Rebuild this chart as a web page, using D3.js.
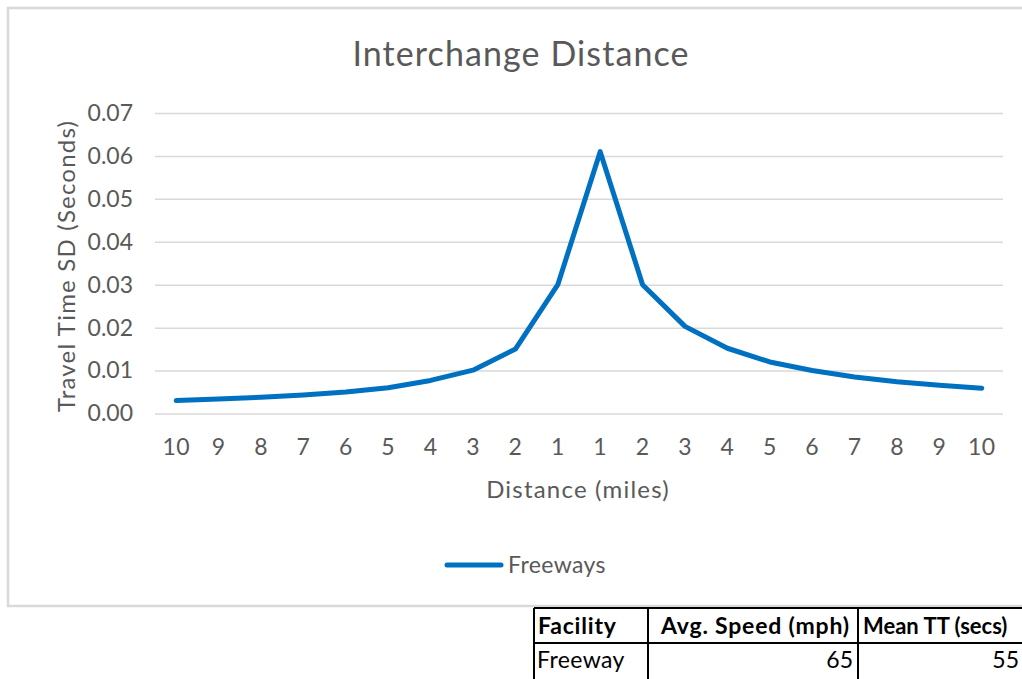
<!DOCTYPE html>
<html>
<head>
<meta charset="utf-8">
<script src="https://cdn.jsdelivr.net/npm/d3@7"></script>
<style>
  body { margin: 0; background: #fff; }
  svg { display: block; }
  text { font-family: Lato, "Open Sans", sans-serif; }
</style>
</head>
<body>
<svg id="chart" width="1022" height="679"></svg>
<script>
// Distance from the interchange (miles), upstream then downstream
const distanceLabels = ["10","9","8","7","6","5","4","3","2","1","1","2","3","4","5","6","7","8","9","10"];
// Travel time standard deviation (seconds) for freeways
const freewaySD = [0.0030, 0.0034, 0.0038, 0.0043, 0.0050, 0.0060, 0.0077, 0.0101, 0.0150, 0.0300,
                   0.0610, 0.0300, 0.0203, 0.0152, 0.0120, 0.0100, 0.0085, 0.0074, 0.0066, 0.0059];
const yTicks = [0, 0.01, 0.02, 0.03, 0.04, 0.05, 0.06, 0.07];
const seriesName = "Freeways";

// Summary table below the chart
const tableHeader = ["Facility", "Avg. Speed (mph)", "Mean TT (secs)"];
const tableRow = ["Freeway", "65", "55"];

const svg = d3.select("#chart");
const textGray = "#595959";
const lineBlue = "#0070C0";
const gridGray = "#d9d9d9";

// Chart frame
svg.append("rect")
  .attr("x", 8).attr("y", 8)
  .attr("width", 1040).attr("height", 598)
  .attr("fill", "#fff")
  .attr("stroke", gridGray)
  .attr("stroke-width", 2.5);

const plot = { left: 155, right: 1003, top: 113, bottom: 413.5 };

const x = d3.scaleBand()
  .domain(d3.range(distanceLabels.length))
  .range([plot.left, plot.right]);

const y = d3.scaleLinear()
  .domain([0, 0.07])
  .range([plot.bottom, plot.top]);

// Title
svg.append("text")
  .attr("x", 521).attr("y", 66)
  .attr("text-anchor", "middle")
  .attr("fill", textGray)
  .attr("font-size", 34)
  .attr("letter-spacing", 1.1)
  .text("Interchange Distance");

// Horizontal gridlines + y tick labels
const yAxis = d3.axisLeft(y)
  .tickValues(yTicks)
  .tickFormat(d3.format(".2f"))
  .tickSize(-(plot.right - plot.left))
  .tickPadding(22);

const gy = svg.append("g")
  .attr("transform", `translate(${plot.left},0)`)
  .call(yAxis);
gy.select(".domain").remove();
gy.selectAll(".tick line").attr("stroke", gridGray).attr("stroke-width", 1.5);
gy.selectAll(".tick text")
  .attr("fill", textGray)
  .attr("font-size", 23)
  .attr("font-family", "Lato, sans-serif");

// X axis labels
const xAxis = d3.axisBottom(x)
  .tickFormat(i => distanceLabels[i])
  .tickSize(0)
  .tickPadding(25);

const gx = svg.append("g")
  .attr("transform", `translate(0,${plot.bottom})`)
  .call(xAxis);
gx.select(".domain").remove();
gx.selectAll(".tick text")
  .attr("fill", textGray)
  .attr("font-size", 23)
  .attr("letter-spacing", 0.4)
  .attr("font-family", "Lato, sans-serif");

// Axis titles
svg.append("text")
  .attr("transform", "translate(75,266) rotate(-90)")
  .attr("text-anchor", "middle")
  .attr("fill", textGray)
  .attr("font-size", 24)
  .attr("letter-spacing", 1.2)
  .text("Travel Time SD (Seconds)");

svg.append("text")
  .attr("x", 578).attr("y", 498)
  .attr("text-anchor", "middle")
  .attr("fill", textGray)
  .attr("font-size", 24)
  .attr("letter-spacing", 1.2)
  .text("Distance (miles)");

// Series line
const line = d3.line()
  .x((d, i) => x(i) + x.bandwidth() / 2)
  .y(d => y(d));

svg.append("path")
  .datum(freewaySD)
  .attr("d", line)
  .attr("fill", "none")
  .attr("stroke", lineBlue)
  .attr("stroke-width", 5)
  .attr("stroke-linejoin", "round")
  .attr("stroke-linecap", "round");

// Legend
svg.append("line")
  .attr("x1", 447).attr("x2", 501)
  .attr("y1", 565).attr("y2", 565)
  .attr("stroke", lineBlue)
  .attr("stroke-width", 5)
  .attr("stroke-linecap", "round");
svg.append("text")
  .attr("x", 508).attr("y", 573)
  .attr("fill", textGray)
  .attr("font-size", 23)
  .attr("letter-spacing", 0.4)
  .text(seriesName);

// Table
const colEdges = [534, 648, 858, 1040];
const rowEdges = [608, 643, 690];
const tbl = svg.append("g");

rowEdges.forEach(yy => {
  tbl.append("line")
    .attr("x1", colEdges[0]).attr("x2", colEdges[colEdges.length - 1])
    .attr("y1", yy).attr("y2", yy)
    .attr("stroke", "#000").attr("stroke-width", 2);
});
colEdges.forEach(xx => {
  tbl.append("line")
    .attr("x1", xx).attr("x2", xx)
    .attr("y1", rowEdges[0]).attr("y2", rowEdges[rowEdges.length - 1])
    .attr("stroke", "#000").attr("stroke-width", 2);
});

const headerX = [538, 661, 863];
const headerSpacing = [0.8, 0.8, 0];
const headerSize = [23, 23, 22];
tableHeader.forEach((t, i) => {
  tbl.append("text")
    .attr("x", headerX[i]).attr("y", 634)
    .attr("fill", "#000")
    .attr("font-size", headerSize[i])
    .attr("font-weight", "bold")
    .attr("letter-spacing", headerSpacing[i])
    .text(t);
});

tbl.append("text")
  .attr("x", 537).attr("y", 668)
  .attr("fill", "#000").attr("font-size", 23)
  .attr("letter-spacing", 0.4)
  .text(tableRow[0]);
tbl.append("text")
  .attr("x", 853).attr("y", 668)
  .attr("text-anchor", "end")
  .attr("fill", "#000").attr("font-size", 23)
  .text(tableRow[1]);
tbl.append("text")
  .attr("x", 1019).attr("y", 668)
  .attr("text-anchor", "end")
  .attr("fill", "#000").attr("font-size", 23)
  .text(tableRow[2]);
</script>
</body>
</html>
